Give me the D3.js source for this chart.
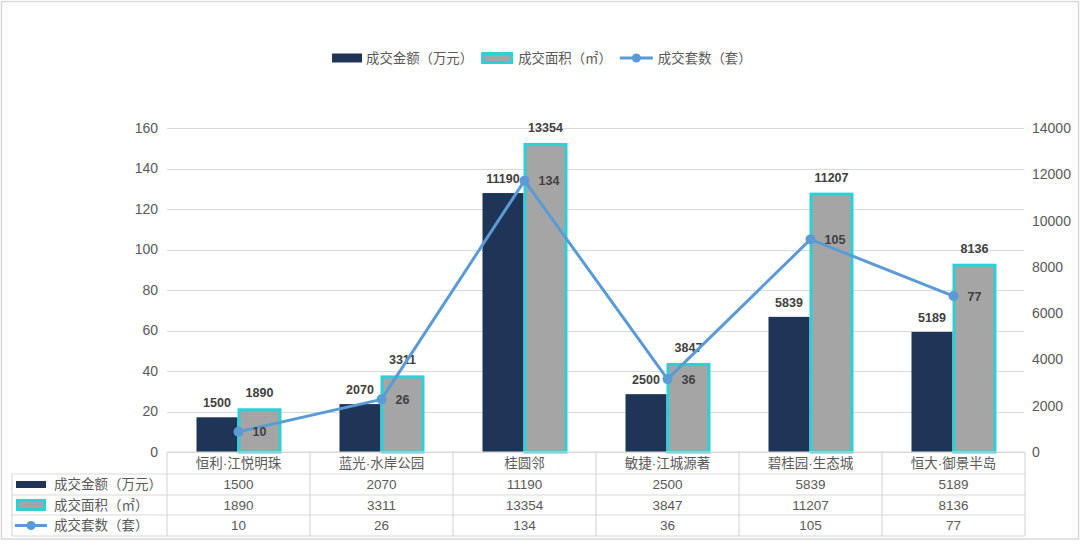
<!DOCTYPE html>
<html><head><meta charset="utf-8">
<script src="https://cdn.jsdelivr.net/npm/d3@7/dist/d3.min.js"></script>
<style>
body{margin:0;background:#fff;}
svg{display:block;font-family:"Liberation Sans","Noto Sans CJK SC",sans-serif;}
</style></head><body>
<svg id="c" width="1080" height="550"></svg>
<script>
const categories = ["恒利·江悦明珠","蓝光·水岸公园","桂圆邻","敏捷·江城源著","碧桂园·生态城","恒大·御景半岛"];
const amount = [1500, 2070, 11190, 2500, 5839, 5189];
const area = [1890, 3311, 13354, 3847, 11207, 8136];
const units = [10, 26, 134, 36, 105, 77];
const leftTicks = [0,20,40,60,80,100,120,140,160];
const rightTicks = [0,2000,4000,6000,8000,10000,12000,14000];
const seriesNames = ["成交金额（万元）","成交面积（㎡）","成交套数（套）"];
const legendNames = ["成交金额（万元）","成交面积（㎡）","成交套数（套）"];

const C = {dark:"#1F3558", gray:"#A5A5A5", cyan:"#2DD0D6", line:"#5B9BD5", grid:"#D9D9D9", text:"#595959", label:"#404040"};
const svg = d3.select("#c");
const L = 167, R = 1025, T = 128, B = 452;
const lf = "Liberation Sans, sans-serif";
const cf = "Liberation Sans, Noto Sans CJK SC, sans-serif";

svg.append("rect").attr("x",1.5).attr("y",1.5).attr("width",1077).attr("height",537.5)
  .attr("fill","none").attr("stroke","#D9D9D9").attr("stroke-width",1.5);

const x = d3.scaleBand().domain(categories).range([L,R]).padding(0);
const yL = d3.scaleLinear().domain([0,160]).range([B,T]);
const yR = d3.scaleLinear().domain([0,14000]).range([B,T]);

svg.append("g").selectAll("line").data(leftTicks).join("line")
  .attr("x1",L).attr("x2",R-1).attr("y1",d=>Math.round(yL(d))+0.5).attr("y2",d=>Math.round(yL(d))+0.5)
  .attr("stroke",C.grid).attr("stroke-width",1);

const gl = svg.append("g").attr("transform",`translate(${L-9},0)`)
  .call(d3.axisLeft(yL).tickValues(leftTicks).tickSize(0).tickPadding(0).tickFormat(d3.format("d")));
gl.select(".domain").remove();
gl.selectAll("text").attr("font-size",14).attr("fill",C.text).attr("font-family",lf);

const gr = svg.append("g").attr("transform",`translate(${R+7},0)`)
  .call(d3.axisRight(yR).tickValues(rightTicks).tickSize(0).tickPadding(0).tickFormat(d3.format("d")));
gr.select(".domain").remove();
gr.selectAll("text").attr("font-size",14).attr("fill",C.text).attr("font-family",lf);

const bw = 41;
const g = svg.append("g");
g.selectAll("rect.a").data(amount).join("rect").attr("class","a")
  .attr("x",(d,i)=>x(categories[i])+x.bandwidth()/2-bw-1)
  .attr("y",d=>yR(d)).attr("width",bw).attr("height",d=>B-yR(d))
  .attr("fill",C.dark);
g.selectAll("rect.b").data(area).join("rect").attr("class","b")
  .attr("x",(d,i)=>x(categories[i])+x.bandwidth()/2+0.5)
  .attr("y",d=>yR(d)+1.5).attr("width",bw).attr("height",d=>B-yR(d)-1.5)
  .attr("fill",C.gray).attr("stroke",C.cyan).attr("stroke-width",3);

g.selectAll("text.a").data(amount).join("text")
  .attr("x",(d,i)=>x(categories[i])+x.bandwidth()/2-bw/2-1)
  .attr("y",d=>yR(d)-10).attr("text-anchor","middle")
  .attr("font-size",12.5).attr("font-weight","bold").attr("fill",C.label).attr("font-family",lf)
  .text(d=>d);
g.selectAll("text.b").data(area).join("text")
  .attr("x",(d,i)=>x(categories[i])+x.bandwidth()/2+bw/2+0.5)
  .attr("y",d=>yR(d)-11).attr("text-anchor","middle")
  .attr("font-size",12.5).attr("font-weight","bold").attr("fill",C.label).attr("font-family",lf)
  .text(d=>d);

const cx = (i)=>x(categories[i])+x.bandwidth()/2;
const line = d3.line().x((d,i)=>cx(i)).y(d=>yL(d));
svg.append("path").datum(units).attr("d",line).attr("fill","none")
  .attr("stroke",C.line).attr("stroke-width",3).attr("stroke-linejoin","round");
svg.append("g").selectAll("circle").data(units).join("circle")
  .attr("cx",(d,i)=>cx(i)).attr("cy",d=>yL(d)).attr("r",5).attr("fill",C.line);
svg.append("g").selectAll("text").data(units).join("text")
  .attr("x",(d,i)=>cx(i)+14).attr("y",d=>yL(d)).attr("dy","0.36em")
  .attr("font-size",12.5).attr("font-weight","bold").attr("fill",C.label).attr("font-family",lf)
  .text(d=>d);

const leg = svg.append("g");
let lx = 332; const ly = 58;
legendNames.forEach((name,i)=>{
  const gg = leg.append("g");
  if(i===0){
    gg.append("rect").attr("x",lx).attr("y",ly-4.5).attr("width",30).attr("height",9).attr("fill",C.dark);
    lx += 34;
  } else if(i===1){
    gg.append("rect").attr("x",lx+1.5).attr("y",ly-4.5).attr("width",29).attr("height",9).attr("fill",C.gray).attr("stroke",C.cyan).attr("stroke-width",3);
    lx += 37;
  } else {
    gg.append("line").attr("x1",lx).attr("x2",lx+33).attr("y1",ly).attr("y2",ly).attr("stroke",C.line).attr("stroke-width",3);
    gg.append("circle").attr("cx",lx+16.5).attr("cy",ly).attr("r",4.5).attr("fill",C.line);
    lx += 38;
  }
  const t = gg.append("text").attr("x",lx).attr("y",ly).attr("dy","0.35em")
    .attr("font-size",13.4).attr("fill",C.text).attr("font-family","Noto Sans CJK SC, sans-serif").text(name);
  lx += t.node().getComputedTextLength() + 8;
});

const rows = [452, 474, 495, 515, 536];
const tb = svg.append("g");
const tableData = [amount, area, units];
tb.selectAll("text.cat").data(categories).join("text")
  .attr("x",d=>x(d)+x.bandwidth()/2).attr("y",(rows[0]+rows[1])/2).attr("dy","0.35em")
  .attr("text-anchor","middle").attr("font-size",13.5).attr("fill",C.text).attr("font-family",cf).text(d=>d);
tableData.forEach((arr,r)=>{
  const yy = (rows[r+1]+rows[r+2])/2;
  tb.selectAll("text.r"+r).data(arr).join("text")
    .attr("x",(d,i)=>x(categories[i])+x.bandwidth()/2).attr("y",yy).attr("dy","0.35em")
    .attr("text-anchor","middle").attr("font-size",13.5).attr("fill",C.text).attr("font-family",lf).text(d=>d);
  if(r===0){
    tb.append("rect").attr("x",16).attr("y",yy-3.5).attr("width",30).attr("height",7).attr("fill",C.dark);
  } else if(r===1){
    tb.append("rect").attr("x",17.5).attr("y",yy-4.5).attr("width",27).attr("height",9).attr("fill",C.gray).attr("stroke",C.cyan).attr("stroke-width",3);
  } else {
    tb.append("line").attr("x1",15).attr("x2",47).attr("y1",yy).attr("y2",yy).attr("stroke",C.line).attr("stroke-width",3);
    tb.append("circle").attr("cx",31).attr("cy",yy).attr("r",4.5).attr("fill",C.line);
  }
  tb.append("text").attr("x",54).attr("y",yy).attr("dy","0.35em").attr("font-size",13.5)
    .attr("fill",C.text).attr("font-family","Noto Sans CJK SC, sans-serif").text(seriesNames[r]);
});
const tl = tb.append("g").attr("stroke",C.grid).attr("stroke-width",1.2);
tl.append("line").attr("x1",L).attr("x2",R).attr("y1",rows[0]).attr("y2",rows[0]);
[1,2,3,4].forEach(k=>tl.append("line").attr("x1",12).attr("x2",R).attr("y1",rows[k]).attr("y2",rows[k]));
tl.append("line").attr("x1",12).attr("x2",12).attr("y1",rows[1]).attr("y2",rows[4]);
categories.forEach(c=>tl.append("line").attr("x1",x(c)).attr("x2",x(c)).attr("y1",rows[0]).attr("y2",rows[4]));
tl.append("line").attr("x1",R).attr("x2",R).attr("y1",rows[0]).attr("y2",rows[4]);
</script>
</body></html>
